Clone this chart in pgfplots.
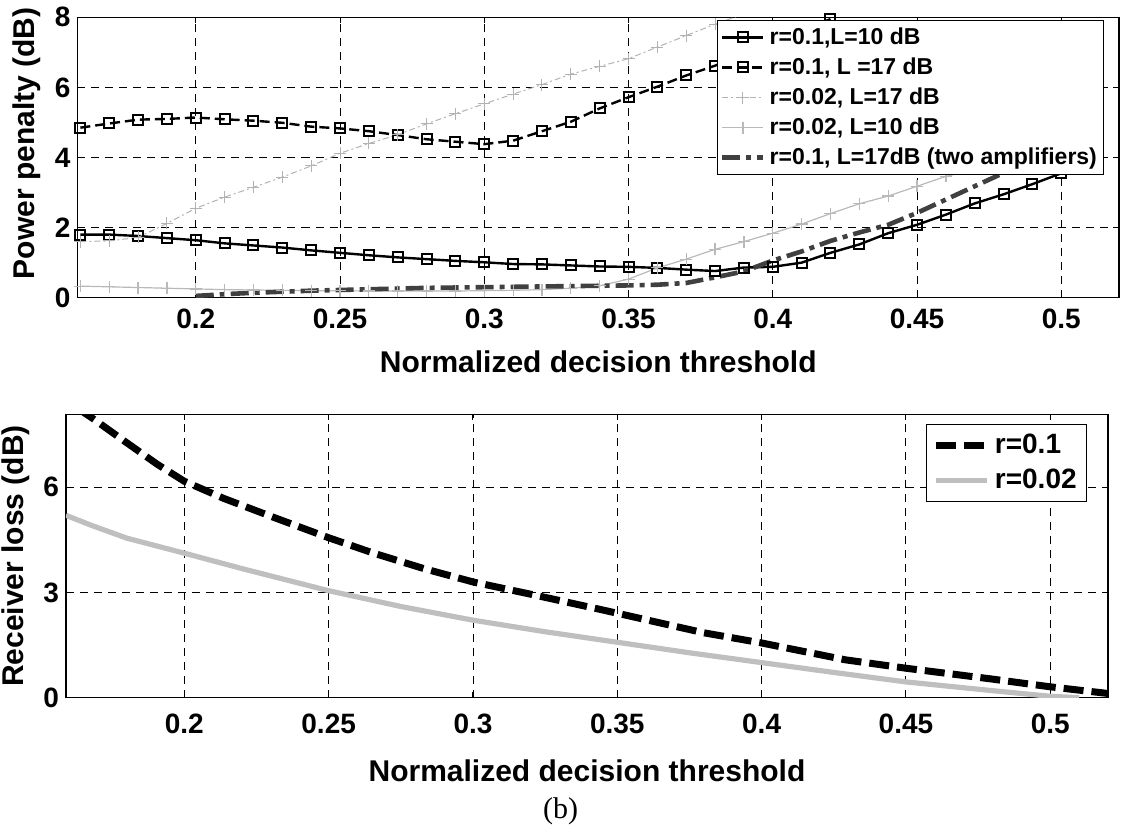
\documentclass[border=0pt]{standalone}
\usepackage{pgfplots}
\pgfplotsset{compat=1.18}
\usepackage{fontspec}
\setmainfont{Liberation Sans}
\newfontfamily\serifb{Liberation Serif}
\begin{document}
\begin{tikzpicture}
\useasboundingbox (0,0) rectangle (560.5pt,417pt);
\pgfplotsset{
  every axis/.append style={
    scale only axis,
    axis line style={black, line width=0.6pt},
    xmin=0.159, xmax=0.52,
    xtick={0.2,0.25,0.3,0.35,0.4,0.45,0.5},
    xticklabels={0.2,0.25,0.3,0.35,0.4,0.45,0.5},
    tick align=inside,
    major tick length=3pt,
    tick style={black, line width=0.5pt},
    grid=major,
    major grid style={black, line width=0.45pt, dash pattern=on 4pt off 3pt},
    /pgf/number format/assume math mode=true,
    tick label style={font=\fontsize{14}{16}\selectfont\bfseries},
    label style={font=\fontsize{15}{17}\selectfont\bfseries},
    legend cell align=left,
  },
}
% ---------- top axis ----------
\begin{axis}[
  at={(38.75pt,268.15pt)}, anchor=south west,
  width=520.75pt, height=140.2pt,
  ymin=0, ymax=8, ytick={0,2,4,6,8},
  xticklabel style={yshift=-2pt},
  xlabel style={yshift=-4pt},
  ylabel style={at={(ticklabel cs:0.55)}},
  xlabel={Normalized decision threshold},
  ylabel={Power penalty (dB)},
  legend style={at={(rel axis cs:0.986,0.99)}, anchor=north east,
    font=\fontsize{11.5}{14}\selectfont\bfseries, draw=black, line width=0.5pt,
    inner sep=1.5pt, row sep=1.2pt},
  legend image code/.code={\draw[mark repeat=2,mark phase=2] plot coordinates {(0cm,0cm) (0.36cm,0cm) (0.72cm,0cm)};},
]
\addplot[black, line width=1.2pt, mark=square, mark size=2.5pt, mark options={solid, fill=white, line width=1pt}] coordinates {
(0.16,1.80)(0.17,1.80)(0.18,1.76)(0.19,1.70)(0.20,1.64)(0.21,1.55)(0.22,1.49)(0.23,1.43)(0.24,1.35)(0.25,1.28)
(0.26,1.21)(0.27,1.15)(0.28,1.10)(0.29,1.05)(0.30,1.01)(0.31,0.96)(0.32,0.95)(0.33,0.92)(0.34,0.89)(0.35,0.88)
(0.36,0.85)(0.37,0.80)(0.38,0.76)(0.39,0.86)(0.40,0.88)(0.41,1.00)(0.42,1.28)(0.43,1.52)(0.44,1.84)(0.45,2.08)
(0.46,2.37)(0.47,2.69)(0.48,2.95)(0.49,3.24)(0.50,3.55)(0.51,3.77)};
\addlegendentry{r=0.1,L=10 dB}
\addplot[black, line width=1.2pt, dash pattern=on 5pt off 2.5pt, mark=square, mark size=2.5pt, mark options={solid, fill=white, line width=1pt}] coordinates {
(0.16,4.85)(0.17,4.97)(0.18,5.08)(0.19,5.10)(0.20,5.14)(0.21,5.09)(0.22,5.05)(0.23,4.99)(0.24,4.88)(0.25,4.83)
(0.26,4.75)(0.27,4.64)(0.28,4.52)(0.29,4.45)(0.30,4.38)(0.31,4.48)(0.32,4.75)(0.33,5.02)(0.34,5.40)(0.35,5.72)
(0.36,6.02)(0.37,6.34)(0.38,6.62)(0.39,6.96)(0.40,7.30)(0.41,7.62)(0.42,7.95)(0.43,8.30)};
\addlegendentry{r=0.1, L =17 dB}
\addplot[gray!60, line width=0.5pt, dash pattern=on 3pt off 1.5pt on 1pt off 1.5pt, mark=+, mark size=3pt, mark options={solid}] coordinates {
(0.16,1.60)(0.17,1.62)(0.18,1.72)(0.19,2.12)(0.20,2.55)(0.21,2.87)(0.22,3.15)(0.23,3.44)(0.24,3.76)(0.25,4.12)
(0.26,4.40)(0.27,4.65)(0.28,4.96)(0.29,5.25)(0.30,5.53)(0.31,5.81)(0.32,6.08)(0.33,6.38)(0.34,6.60)(0.35,6.82)
(0.36,7.15)(0.37,7.48)(0.38,7.80)(0.39,8.10)(0.40,8.40)};
\addlegendentry{r=0.02, L=17 dB}
\addplot[gray!55, line width=0.6pt, mark=+, mark size=3pt, mark options={solid}] coordinates {
(0.16,0.33)(0.17,0.31)(0.18,0.29)(0.19,0.27)(0.20,0.25)(0.21,0.23)(0.22,0.22)(0.23,0.21)(0.24,0.20)(0.25,0.20)
(0.26,0.19)(0.27,0.19)(0.28,0.19)(0.29,0.19)(0.30,0.20)(0.31,0.21)(0.32,0.23)(0.33,0.27)(0.34,0.34)(0.35,0.53)
(0.36,0.85)(0.37,1.10)(0.38,1.38)(0.39,1.60)(0.40,1.84)(0.41,2.10)(0.42,2.40)(0.43,2.68)(0.44,2.90)(0.45,3.18)
(0.46,3.46)(0.47,3.66)(0.48,3.84)(0.49,4.05)(0.50,4.28)(0.51,4.50)};
\addlegendentry{r=0.02, L=10 dB}
\addplot[black!75, line width=2.3pt, dash pattern=on 9pt off 3pt on 2.5pt off 3pt] coordinates {
(0.20,0.05)(0.21,0.10)(0.22,0.14)(0.23,0.17)(0.24,0.20)(0.25,0.22)(0.26,0.24)(0.27,0.26)(0.28,0.28)(0.29,0.29)
(0.30,0.30)(0.31,0.31)(0.32,0.32)(0.33,0.33)(0.34,0.34)(0.35,0.35)(0.36,0.37)(0.37,0.42)(0.38,0.58)(0.39,0.75)
(0.40,1.06)(0.41,1.32)(0.42,1.62)(0.43,1.86)(0.44,2.08)(0.45,2.42)(0.46,2.80)(0.47,3.18)(0.48,3.56)(0.49,3.90)
(0.50,4.20)(0.51,4.45)};
\addlegendentry{r=0.1, L=17dB (two amplifiers)}
\end{axis}
% ---------- bottom axis ----------
\begin{axis}[
  at={(33pt,68.15pt)}, anchor=south west,
  width=521pt, height=141.7pt,
  ymin=0, ymax=8.08, ytick={0,3,6},
  xticklabel style={yshift=-4.5pt},
  xlabel style={yshift=-6pt},
  xlabel={Normalized decision threshold},
  ylabel={Receiver loss (dB)},
  legend style={at={(rel axis cs:0.98,0.966)}, anchor=north east,
    font=\fontsize{14}{17}\selectfont\bfseries, draw=black, line width=0.5pt,
    inner sep=3pt, row sep=2pt},
  legend image code/.code={\draw plot coordinates {(0cm,0cm) (0.9cm,0cm)};},
]
\addplot[black, line width=3.5pt, dash pattern=on 10pt off 4pt] coordinates {
(0.163,8.25)(0.1676,8.0)(0.179,7.33)(0.1907,6.65)(0.2,6.17)(0.2137,5.68)(0.231,5.14)(0.25,4.56)(0.2656,4.12)
(0.283,3.68)(0.3,3.30)(0.32,2.95)(0.345,2.50)(0.38,1.85)(0.4,1.56)(0.429,1.08)(0.45,0.84)(0.479,0.54)(0.5,0.31)(0.52,0.12)};
\addlegendentry{r=0.1}
\addplot[gray!50, line width=2.6pt] coordinates {
(0.159,5.20)(0.1676,4.92)(0.18,4.55)(0.2,4.12)(0.22,3.68)(0.25,3.05)(0.275,2.60)(0.3,2.21)(0.325,1.88)(0.35,1.58)
(0.375,1.28)(0.4,1.00)(0.425,0.72)(0.45,0.45)(0.48,0.20)(0.5,0.04)(0.51,0.0)};
\addlegendentry{r=0.02}
\end{axis}
\node[font=\serifb\fontsize{15}{17}\selectfont] at (280.25pt,11.5pt) {(b)};
\end{tikzpicture}
\end{document}
